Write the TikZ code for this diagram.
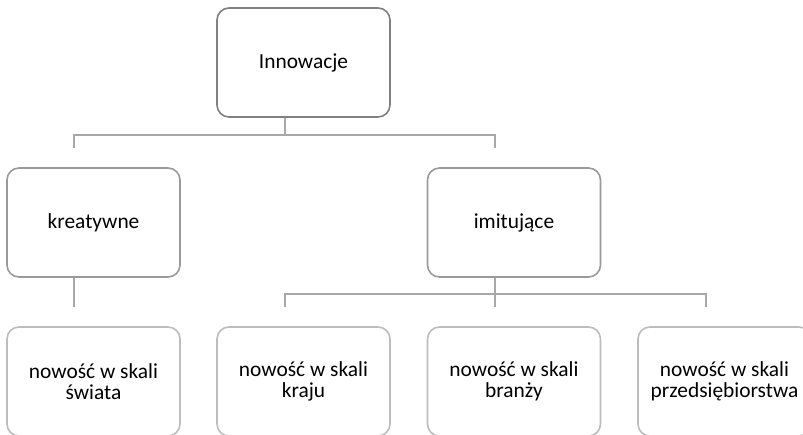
\documentclass[tikz,border=0pt]{standalone}
\usepackage{fontspec}
\setmainfont{Carlito}
\usetikzlibrary{calc}
\definecolor{edgetop}{HTML}{808080}
\definecolor{edgemid}{HTML}{9A9A9A}
\definecolor{edgelow}{HTML}{BDBDBD}
\definecolor{linkgray}{HTML}{A8A8A8}
\begin{document}
\begin{tikzpicture}[x=1pt,y=-1pt,
  box/.style={rounded corners=12pt, line width=1.6pt, fill=white,
    minimum width=173pt, minimum height=109pt, inner sep=0pt,
    align=center, font=\fontsize{21.4}{21}\selectfont},
  link/.style={draw=linkgray, line width=1.6pt}]
\useasboundingbox (0,0) rectangle (803,435);
\clip (0,0) rectangle (803,435);

% level 0
\node[box, draw=edgetop] (inn) at (303.5,62.5) {Innowacje};
% level 1
\node[box, draw=edgemid] (kre) at (93.5,222.5) {kreatywne};
\node[box, draw=edgemid] (imi) at (514,222.5) {imitujące};
% level 2
\node[box, draw=edgelow] (swi) at (93.5,381.5) {nowość w skali\\świata};
\node[box, draw=edgelow] (kra) at (303.5,381.5) {nowość w skali\\kraju};
\node[box, draw=edgelow] (bra) at (514,381.5) {nowość w skali\\branży};
\node[box, draw=edgelow] (prz) at (724.5,381.5) {nowość w skali\\przedsiębiorstwa};

% connectors, offset left of the box centres
\coordinate (innbus) at ($(inn.south)+(-18.5,17)$);
\draw[link] ($(inn.south)+(-18.5,0)$) -- (innbus);
\draw[link] (innbus) -| ($(kre.north)+(-19.5,-19)$);
\draw[link] (innbus) -| ($(imi.north)+(-19,-19)$);

\draw[link] ($(kre.south)+(-19.5,0)$) -- ($(swi.north)+(-19.5,-19)$);

\coordinate (imibus) at ($(imi.south)+(-19,16)$);
\draw[link] ($(imi.south)+(-19,0)$) -- (imibus);
\draw[link] (imibus) -| ($(kra.north)+(-18.5,-19)$);
\draw[link] (imibus) -- ($(bra.north)+(-19,-19)$);
\draw[link] (imibus) -| ($(prz.north)+(-18.5,-19)$);
\end{tikzpicture}
\end{document}
